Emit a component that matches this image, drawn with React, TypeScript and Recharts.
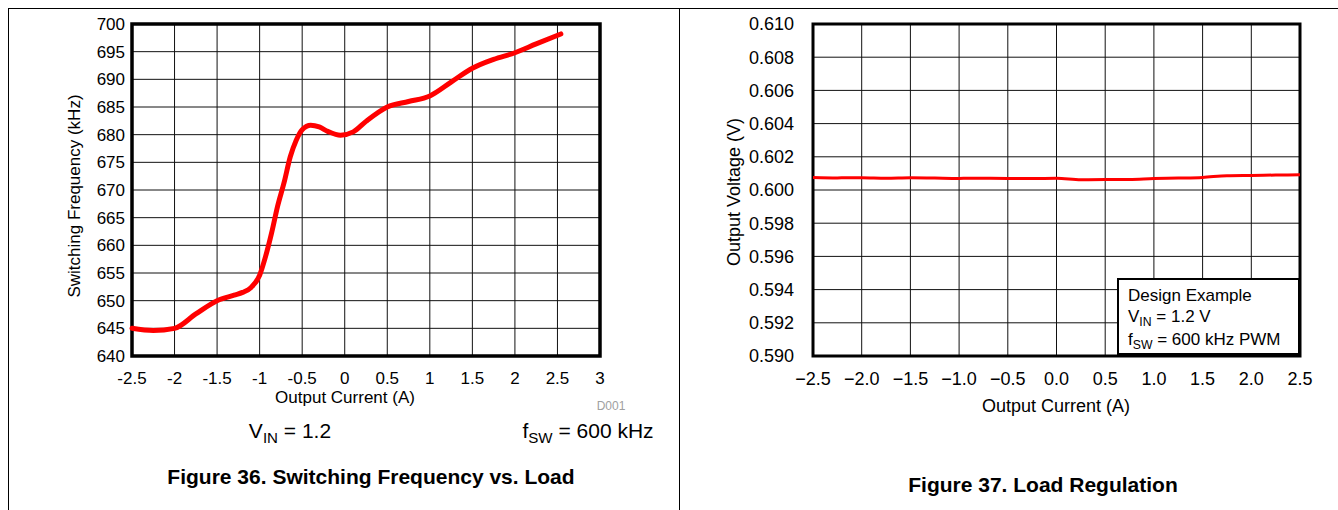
import React from "react";
import {
  LineChart,
  Line,
  XAxis,
  YAxis,
  CartesianGrid,
  ReferenceArea,
} from "recharts";

// Figure 36: switching frequency vs load
const freqCurrent = [
  -2.5, -2.25, -2.0, -1.75, -1.5, -1.3, -1.2, -1.1, -1.0, -0.93, -0.86, -0.79,
  -0.71, -0.64, -0.57, -0.5, -0.4, -0.3, -0.2, -0.05, 0.1, 0.25, 0.5, 0.75,
  1.0, 1.25, 1.5, 1.75, 2.0, 2.25, 2.54,
];
const freqKHz = [
  645.0, 644.6, 645.0, 647.6, 650.0, 651.0, 651.5, 652.4, 654.6, 658.0, 662.2,
  667.0, 671.5, 676.0, 679.0, 680.9, 681.7, 681.4, 680.6, 679.9, 680.5, 682.4,
  685.0, 686.0, 687.0, 689.5, 692.0, 693.6, 694.8, 696.4, 698.2,
];
const freqXTicks = [-2.5, -2, -1.5, -1, -0.5, 0, 0.5, 1, 1.5, 2, 2.5, 3];
const freqYTicks = [640, 645, 650, 655, 660, 665, 670, 675, 680, 685, 690, 695, 700];

// Figure 37: load regulation
const regCurrent = [
  -2.5, -2.25, -2.0, -1.75, -1.5, -1.25, -1.0, -0.75, -0.5, -0.25, 0.0, 0.25,
  0.5, 0.75, 1.0, 1.25, 1.5, 1.75, 2.0, 2.25, 2.5,
];
const regVolt = [
  0.60076, 0.60073, 0.60074, 0.60071, 0.60074, 0.60072, 0.6007, 0.60071,
  0.6007, 0.60069, 0.60071, 0.60062, 0.60063, 0.60064, 0.60069, 0.60072,
  0.60076, 0.60086, 0.60088, 0.6009, 0.60092,
];
const regXTicks = [-2.5, -2, -1.5, -1, -0.5, 0, 0.5, 1, 1.5, 2, 2.5];
const regYTicks = [
  0.59, 0.592, 0.594, 0.596, 0.598, 0.6, 0.602, 0.604, 0.606, 0.608, 0.61,
];

const freqData = freqCurrent.map((x, i) => ({ x, f: freqKHz[i] }));
const regData = regCurrent.map((x, i) => ({ x, v: regVolt[i] }));

const FONT = '"Liberation Sans", Arial, Helvetica, sans-serif';

function Txt({
  x,
  y,
  size = 18,
  bold = false,
  color = "#000",
  rotate = 0,
  children,
}: {
  x: number;
  y: number;
  size?: number;
  bold?: boolean;
  color?: string;
  rotate?: number;
  children: React.ReactNode;
}) {
  return (
    <div
      style={{
        position: "absolute",
        left: x,
        top: y,
        transform: `translate(-50%, -50%) rotate(${rotate}deg)`,
        fontSize: size,
        fontWeight: bold ? "bold" : "normal",
        color,
        whiteSpace: "nowrap",
        lineHeight: 1,
      }}
    >
      {children}
    </div>
  );
}

const Sub = ({ children }: { children: React.ReactNode }) => (
  <span style={{ fontSize: "0.72em", position: "relative", top: "0.3em" }}>
    {children}
  </span>
);

export default function App() {
  const leftTick = { fill: "#000", fontSize: 17, fontFamily: FONT };
  const rightTick = { fill: "#000", fontSize: 18, fontFamily: FONT };
  return (
    <div
      style={{
        position: "absolute",
        left: 0,
        top: 0,
        width: 1338,
        height: 510,
        background: "#fff",
        fontFamily: FONT,
        overflow: "hidden",
      }}
    >
      {/* page frame */}
      <div style={{ position: "absolute", left: 8, top: 8, width: 1330, height: 1, background: "#000" }} />
      <div style={{ position: "absolute", left: 8, top: 8, width: 1, height: 502, background: "#000" }} />
      <div style={{ position: "absolute", left: 679, top: 8, width: 1, height: 502, background: "#000" }} />

      {/* left chart */}
      <div style={{ position: "absolute", left: 0, top: 0 }}>
        <LineChart
          width={680}
          height={510}
          data={freqData}
          margin={{ top: 24, right: 80, bottom: 124, left: 72 }}
        >
          <CartesianGrid stroke="#111" strokeWidth={1} />
          <XAxis
            dataKey="x"
            type="number"
            domain={[-2.5, 3]}
            ticks={freqXTicks}
            interval={0}
            axisLine={false}
            tickLine={false}
            tickSize={8}
            tickMargin={8}
            height={30}
            tick={leftTick}
          />
          <YAxis
            type="number"
            domain={[640, 700]}
            ticks={freqYTicks}
            interval={0}
            axisLine={false}
            tickLine={false}
            tickSize={5}
            tickMargin={2}
            width={60}
            tick={leftTick}
          />
          <ReferenceArea
            x1={-2.5}
            x2={3}
            y1={640}
            y2={700}
            fill="none"
            stroke="#000"
            strokeWidth={3.5}
            ifOverflow="visible"
          />
          <Line
            dataKey="f"
            type="monotone"
            stroke="#ff0000"
            strokeWidth={5}
            strokeLinecap="round"
            dot={false}
            isAnimationActive={false}
          />
        </LineChart>
      </div>
      <Txt x={74} y={196} size={17} rotate={-90}>Switching Frequency (kHz)</Txt>
      <Txt x={345} y={397} size={17}>Output Current (A)</Txt>
      <Txt x={611} y={406} size={12} color="#a0a0a0">D001</Txt>
      <Txt x={290} y={430} size={21}>
        V<Sub>IN</Sub> = 1.2
      </Txt>
      <Txt x={588} y={430} size={21}>
        f<Sub>SW</Sub> = 600 kHz
      </Txt>
      <Txt x={371} y={476} size={21} bold>
        Figure 36. Switching Frequency vs. Load
      </Txt>

      {/* right chart */}
      <div style={{ position: "absolute", left: 680, top: 0 }}>
        <LineChart
          width={658}
          height={510}
          data={regData}
          margin={{ top: 24, right: 38, bottom: 124, left: 73 }}
        >
          <CartesianGrid stroke="#111" strokeWidth={1} />
          <XAxis
            dataKey="x"
            type="number"
            domain={[-2.5, 2.5]}
            ticks={regXTicks}
            interval={0}
            axisLine={false}
            tickLine={false}
            tickSize={8}
            tickMargin={8}
            height={30}
            tick={rightTick}
            tickFormatter={(v: number) => v.toFixed(1).replace("-", "\u2212")}
          />
          <YAxis
            type="number"
            domain={[0.59, 0.61]}
            ticks={regYTicks}
            interval={0}
            axisLine={false}
            tickLine={false}
            tickSize={12}
            tickMargin={7}
            width={60}
            tick={rightTick}
            tickFormatter={(v: number) => v.toFixed(3)}
          />
          <ReferenceArea
            x1={-2.5}
            x2={2.5}
            y1={0.59}
            y2={0.61}
            fill="none"
            stroke="#000"
            strokeWidth={3}
            ifOverflow="visible"
          />
          <Line
            dataKey="v"
            type="monotone"
            stroke="#ff0000"
            strokeWidth={3}
            dot={false}
            isAnimationActive={false}
          />
        </LineChart>
      </div>
      <Txt x={734} y={192} rotate={-90}>Output Voltage (V)</Txt>
      <Txt x={1056} y={406}>Output Current (A)</Txt>
      <Txt x={1043} y={484} size={21} bold>
        Figure 37. Load Regulation
      </Txt>
      <div
        style={{
          position: "absolute",
          left: 1117,
          top: 278,
          width: 183,
          height: 77,
          border: "2px solid #000",
          background: "#fff",
          fontSize: 17,
          lineHeight: "21px",
          padding: "5px 0 0 9px",
          boxSizing: "border-box",
          whiteSpace: "nowrap",
        }}
      >
        <div>Design Example</div>
        <div>
          V<Sub>IN</Sub> = 1.2 V
        </div>
        <div>
          f<Sub>SW</Sub> = 600 kHz PWM
        </div>
      </div>
    </div>
  );
}
